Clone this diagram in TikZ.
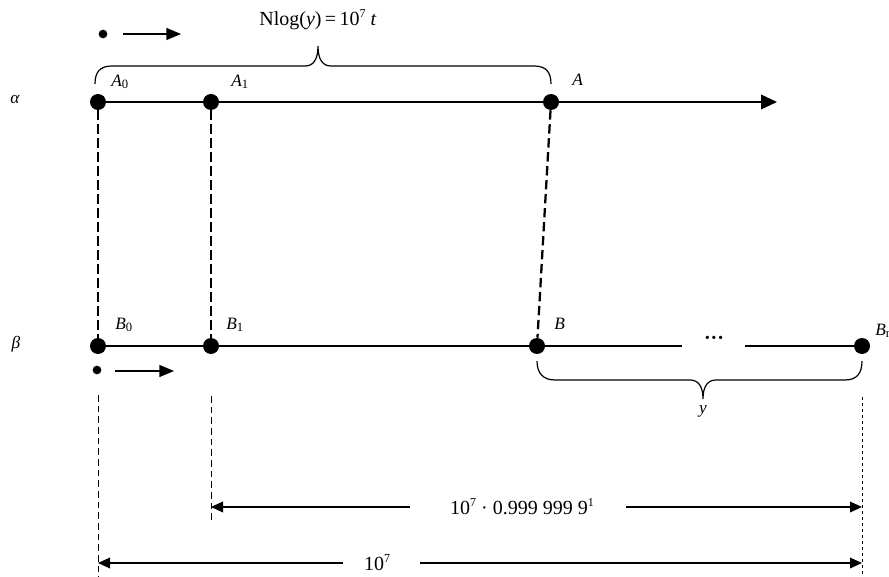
\documentclass[tikz,border=0pt]{standalone}
\usepackage{fontspec}
\setmainfont{Liberation Serif}
\usetikzlibrary{arrows.meta}

\tikzset{
  axis/.style={line width=1.2pt},
  bigdot/.style={circle, fill=black, inner sep=0pt, minimum size=12pt},
  smalldot/.style={circle, fill=black, inner sep=0pt, minimum size=6.5pt},
  link/.style={line width=1.7pt, dash pattern=on 7pt off 3.5pt},
  guide/.style={line width=0.6pt, dash pattern=on 5pt off 3pt},
  fineguide/.style={line width=0.6pt, dash pattern=on 2.5pt off 2pt},
  bracepath/.style={line width=0.9pt},
  motion/.style={line width=1pt, -{Triangle[length=11pt,width=9pt]}},
  dim/.style={line width=1pt, -{Triangle[length=9pt,width=8pt]}},
  lbl/.style={font=\fontsize{13pt}{15pt}\selectfont, inner sep=0pt},
  big/.style={font=\fontsize{15pt}{17pt}\selectfont, inner sep=0pt},
  sub/.style={},
}
\newcommand{\lowidx}[1]{\raisebox{-0.25ex}{\fontsize{9.5pt}{10pt}\selectfont #1}}
\newcommand{\highidx}[1]{\raisebox{0.85ex}{\fontsize{9pt}{10pt}\selectfont #1}}

\begin{document}
\begin{tikzpicture}[x=0.75pt, y=-0.75pt]
\useasboundingbox (0,0) rectangle (889,577);

% line alpha
\node[bigdot] (A0) at (98,102) {};
\node[bigdot] (A1) at (211,102) {};
\node[bigdot] (A)  at (551,102) {};
\coordinate (Aend) at (777,102);
\draw[axis, -{Triangle[length=12pt,width=11pt]}] (A0) -- (Aend);

% line beta
\node[bigdot] (B0) at (98,346) {};
\node[bigdot] (B1) at (211,346) {};
\node[bigdot] (B)  at (537,346) {};
\node[bigdot] (Bn) at (862,346) {};
\node[font=\fontsize{15pt}{17pt}\selectfont\bfseries, inner sep=0pt] (dots) at (714,340) {···};
\coordinate (gapL) at (682,346);
\coordinate (gapR) at (745,346);
\draw[axis] (B0) -- (gapL);
\draw[axis] (gapR) -- (Bn);

% links between the two lines
\draw[link] (A0) -- (B0);
\draw[link] (A1) -- (B1);
\draw[link] (A) -- (B);

% line names
\node[lbl] (alpha) at (15,100) {\textit{α}};
\node[lbl] (beta)  at (16,344) {\textit{β}};

% point labels
\node[lbl, anchor=west] (lA0) at (111,82) {\textit{A}\lowidx{0}};
\node[lbl, anchor=west] (lA1) at (231,82) {\textit{A}\lowidx{1}};
\node[lbl, anchor=west] (lA)  at (572,80) {\textit{A}};
\node[lbl, anchor=west] (lB0) at (115,325) {\textit{B}\lowidx{0}};
\node[lbl, anchor=west] (lB1) at (226,325) {\textit{B}\lowidx{1}};
\node[lbl, anchor=west] (lB)  at (554,324) {\textit{B}};
\node[lbl, anchor=west] (lBn) at (875,331) {\textit{B}\lowidx{n}};

% motion markers
\node[smalldot] (mA) at (103,34) {};
\coordinate (mAs) at (123,34);
\coordinate (mAe) at (181,34);
\draw[motion] (mAs) -- (mAe);
\node[smalldot] (mB) at (97,370) {};
\coordinate (mBs) at (115,371);
\coordinate (mBe) at (174,371);
\draw[motion] (mBs) -- (mBe);

% upper brace
\draw[bracepath] (95,84) .. controls (95,72) and (100,66) .. (112,66)
  -- (305,66) .. controls (313,66) and (318,60) .. (318,46)
  .. controls (318,60) and (323,66) .. (331,66)
  -- (534,66) .. controls (546,66) and (551,72) .. (551,84);
\node[big] (law) at (318,20) {Nlog(\textit{y})\,=\,10\highidx{7} \textit{t}};

% lower brace
\draw[bracepath] (537,361) .. controls (537,373) and (543,380) .. (555,380)
  -- (690,380) .. controls (698,380) and (703,386) .. (703,399)
  .. controls (703,386) and (708,380) .. (716,380)
  -- (845,380) .. controls (857,380) and (862,373) .. (862,361);
\node[lbl] (ylab) at (703,411) {\textit{y}};

% guide lines
\coordinate (g0t) at (98,395);
\coordinate (g0b) at (98,577);
\coordinate (g1t) at (211,396);
\coordinate (g1b) at (211,522);
\coordinate (gnt) at (862,397);
\coordinate (gnb) at (862,577);
\draw[guide] (g0t) -- (g0b);
\draw[guide] (g1t) -- (g1b);
\draw[fineguide] (gnt) -- (gnb);

% dimension arrows
\node[big] (d1) at (522,507) {10\highidx{7} · 0.999 999 9\highidx{1}};
\coordinate (d1l) at (211,507);
\coordinate (d1r) at (862,507);
\coordinate (d1a) at (410,507);
\coordinate (d1b) at (626,507);
\draw[dim] (d1a) -- (d1l);
\draw[dim] (d1b) -- (d1r);

\node[big] (d2) at (377,563) {10\highidx{7}};
\coordinate (d2l) at (98,563);
\coordinate (d2r) at (862,563);
\coordinate (d2a) at (343,563);
\coordinate (d2b) at (420,563);
\draw[dim] (d2a) -- (d2l);
\draw[dim] (d2b) -- (d2r);
\end{tikzpicture}
\end{document}
